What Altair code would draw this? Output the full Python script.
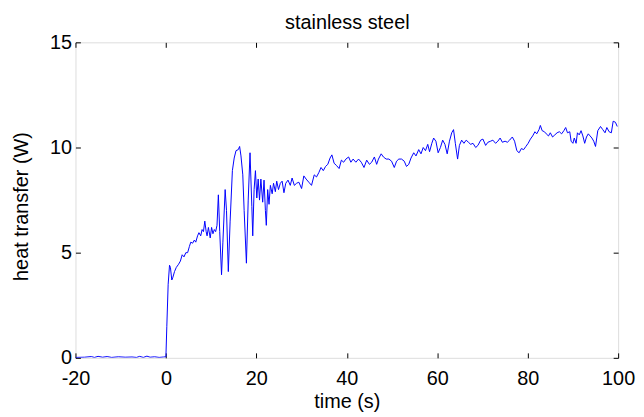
import altair as alt
import pandas as pd

# ---- data ----
time_s = [
    -20, -18, -16.5, -15.8, -15, -14, -13, -12, -10.5, -9, -7.5, -6.5, -5.8, -5, -4.2, -3.5, -2.5, -1.5, -0.5, 0.0,
    0.2, 0.5, 0.8, 1.0, 1.3, 1.5, 1.9, 2.3, 2.8, 3.2, 3.6, 4.0, 4.4, 4.8, 5.2, 5.5, 5.9, 6.3, 6.6, 7.0,
    7.3, 7.7, 8.0, 8.3, 8.6, 8.9, 9.1, 9.4, 9.8, 10.1, 10.4, 10.7, 11.0, 11.3, 11.6, 11.9, 12.3, 12.6, 13.1, 13.4,
    13.8, 14.2, 14.7, 15.1, 15.5, 16.0, 16.3, 16.6, 17.0, 17.3, 17.8, 18.2, 18.6, 19.0, 19.2, 19.5, 19.8, 20.1, 20.4, 20.7,
    21.0, 21.4, 21.7, 22.0, 22.2, 22.5, 22.8, 23.1, 23.5, 23.8, 24.2, 24.5, 24.9, 25.3, 25.7, 26.1, 26.5, 27.0, 27.5, 27.9,
    28.4, 28.9, 29.4, 30.0, 30.5, 31.0, 31.6, 32.2, 32.8, 33.3, 33.8, 34.3, 34.8, 35.3, 35.8, 36.3, 36.7, 37.2, 37.7, 38.3,
    38.8, 39.3, 39.8, 40.4, 40.9, 41.4, 42.0, 42.6, 43.2, 43.8, 44.4, 45.0, 45.5, 46.1, 46.6, 47.0, 47.6, 48.1, 48.7, 49.3,
    49.9, 50.5, 51.0, 51.5, 52.1, 52.7, 53.2, 53.7, 54.2, 54.8, 55.3, 55.9, 56.4, 56.9, 57.4, 57.9, 58.3, 58.8, 59.2, 59.7,
    60.2, 60.7, 61.2, 61.7, 62.2, 62.7, 63.2, 63.6, 64.0, 64.5, 64.9, 65.4, 65.9, 66.4, 66.9, 67.4, 67.9, 68.5, 69.0, 69.6,
    70.1, 70.7, 71.2, 71.8, 72.3, 72.9, 73.4, 73.9, 74.4, 75.0, 75.5, 76.0, 76.6, 77.1, 77.6, 78.1, 78.6, 79.1, 79.6, 80.1,
    80.6, 81.1, 81.6, 82.0, 82.5, 82.8, 83.2, 83.7, 84.1, 84.6, 85.0, 85.5, 86.0, 86.5, 87.0, 87.5, 88.0, 88.4, 88.8, 89.3,
    89.6, 90.0, 90.3, 90.7, 91.0, 91.4, 91.8, 92.2, 92.6, 93.0, 93.4, 93.8, 94.2, 94.6, 95.0, 95.5, 96.1, 96.6, 97.1, 97.5,
    98.0, 98.5, 98.9, 99.4, 99.8,
]
heat_w = [
    0.02, 0.03, 0.06, 0.02, 0.07, 0.03, 0.06, 0.02, 0.05, 0.03, 0.04, 0.02, 0.07, 0.02, 0.08, 0.03, 0.05, 0.02, 0.04, 0.05,
    1.5, 3.5, 4.4, 4.3, 3.7, 3.8, 4.1, 4.3, 4.45, 4.6, 4.9, 4.8, 5.0, 5.0, 5.3, 5.5, 5.45, 5.6, 5.5, 5.8,
    5.95, 5.8, 6.1, 6.0, 6.5, 6.0, 5.8, 6.2, 5.7, 6.2, 5.9, 6.1, 6.0, 6.3, 7.75, 6.0, 3.95, 5.5, 8.0, 7.0,
    4.1, 6.5, 8.9, 9.5, 9.85, 9.9, 10.05, 9.6, 8.7, 7.0, 4.5, 7.5, 9.75, 7.2, 5.8, 8.0, 8.9, 7.6, 8.5, 7.5,
    8.5, 7.4, 8.45, 7.0, 6.3, 8.0, 7.3, 8.2, 7.8, 8.3, 7.9, 8.4, 8.0, 8.3, 8.4, 7.85, 8.3, 8.45, 8.2, 8.55,
    8.2, 8.3, 8.35, 8.05, 8.65, 8.5, 8.35, 8.2, 8.7, 8.6, 8.8, 9.05, 8.9, 9.1, 9.2, 9.5, 9.65, 9.25, 9.15, 9.0,
    9.4, 9.3, 9.45, 9.55, 9.3, 9.45, 9.3, 9.45, 9.3, 9.05, 9.4, 9.2, 9.3, 9.55, 9.2, 9.45, 9.7, 9.55, 9.45, 9.45,
    9.35, 9.05, 9.35, 9.45, 9.45, 9.35, 9.1, 9.2, 9.5, 9.75, 9.6, 9.9, 9.7, 10.0, 9.85, 10.15, 9.8, 10.2, 10.45, 10.3,
    9.75, 10.0, 10.35, 10.15, 9.7, 10.3, 10.7, 10.85, 10.2, 9.45, 10.1, 10.35, 10.2, 10.35, 10.25, 10.15, 10.2, 10.0, 10.1, 10.35,
    10.4, 10.1, 10.25, 10.3, 10.35, 10.2, 10.3, 10.45, 10.25, 10.3, 10.25, 10.35, 10.5, 10.3, 9.85, 9.75, 9.95, 9.9, 10.05, 10.2,
    10.4, 10.55, 10.75, 10.65, 10.85, 11.05, 10.8, 10.75, 10.65, 10.55, 10.7, 10.5, 10.6, 10.7, 10.75, 10.65, 10.8, 10.95, 10.7, 10.75,
    10.3, 10.2, 10.45, 10.2, 10.7, 10.6, 10.8, 10.55, 10.2, 10.5, 10.65, 10.55, 10.45, 10.3, 10.05, 10.8, 11.0, 10.85, 10.7, 10.95,
    10.75, 10.7, 11.25, 11.2, 11.0,
]
x_ticks = [-20, 0, 20, 40, 60, 80, 100]
y_ticks = [0, 5, 10, 15]
title_text = "stainless steel"
x_title = "time (s)"
y_title = "heat transfer (W)"

df = pd.DataFrame({"t": time_s, "q": heat_w})

W, H = 547, 318
FONT = "Liberation Sans"
FS = 20

xs = alt.Scale(domain=[-20, 100], nice=False, zero=False)
ys = alt.Scale(domain=[0, 15], nice=False, zero=False)

base = alt.Chart(df)

main = base.mark_line(color="#0000ff", strokeWidth=1, clip=True).encode(
    x=alt.X("t:Q", scale=xs, axis=alt.Axis(
        orient="bottom", values=x_ticks, ticks=False, tickSize=0, domain=False, grid=False,
        labelFont=FONT, labelFontSize=FS, labelColor="black", labelPadding=11,
        labelBaseline="top", labelFlush=False, labelOverlap=False, labelExpr="'' + datum.value",
        title=x_title, titleFont=FONT, titleFontSize=FS, titleFontWeight="normal",
        titleColor="black", titleX=W / 2, titleY=50, titleBaseline="alphabetic",
        titleAnchor="middle", titleAlign="center")),
    y=alt.Y("q:Q", scale=ys, axis=alt.Axis(
        orient="left", values=y_ticks, ticks=False, tickSize=0, domain=False, grid=False,
        labelFont=FONT, labelFontSize=FS, labelColor="black", labelPadding=4,
        labelFlush=False, labelOverlap=False, labelExpr="'' + datum.value",
        title=y_title, titleFont=FONT, titleFontSize=FS, titleFontWeight="normal",
        titleColor="black", titleX=-54, titleY=165, titleBaseline="middle",
        titleAlign="center", titleAngle=270)),
)

ticks_a = base.mark_line(opacity=0).encode(
    x=alt.X("t:Q", scale=xs, axis=alt.Axis(
        orient="top", offset=-H, values=x_ticks, labels=False, domain=False, grid=False,
        ticks=True, tickSize=5, tickColor="black", tickWidth=1, title=None)),
    y=alt.Y("q:Q", scale=ys, axis=alt.Axis(
        orient="right", offset=-W, values=y_ticks, labels=False, domain=False, grid=False,
        ticks=True, tickSize=5, tickColor="black", tickWidth=1, title=None)),
)

ticks_b = base.mark_line(opacity=0).encode(
    x=alt.X("t:Q", scale=xs, axis=alt.Axis(
        orient="bottom", offset=-H, values=x_ticks, labels=False, domain=False, grid=False,
        ticks=True, tickSize=5, tickColor="black", tickWidth=1, title=None)),
    y=alt.Y("q:Q", scale=ys, axis=alt.Axis(
        orient="left", offset=-W, values=y_ticks, labels=False, domain=False, grid=False,
        ticks=True, tickSize=5, tickColor="black", tickWidth=1, title=None)),
)

# chart title carried by a bare top axis so that its position is exact
title_layer = base.mark_line(opacity=0).encode(
    x=alt.X("t:Q", scale=xs, axis=alt.Axis(
        orient="top", labels=False, ticks=False, domain=False, grid=False,
        title=title_text, titleFont=FONT, titleFontSize=FS, titleFontWeight="normal",
        titleColor="black", titleX=W / 2, titleY=-14, titleBaseline="alphabetic",
        titleAlign="center")),
)

chart = alt.layer(main, ticks_a, ticks_b, title_layer).resolve_axis(
    x="independent", y="independent"
).properties(
    width=W, height=H,
    padding={"left": 68, "top": 33, "right": 18, "bottom": 56},
    autosize=alt.AutoSizeParams(type="none"),
).configure_view(
    stroke="black", strokeWidth=1, fill="white"
).configure(background="white")

chart.save("out.html", embed_options={"renderer": "svg", "actions": False})
